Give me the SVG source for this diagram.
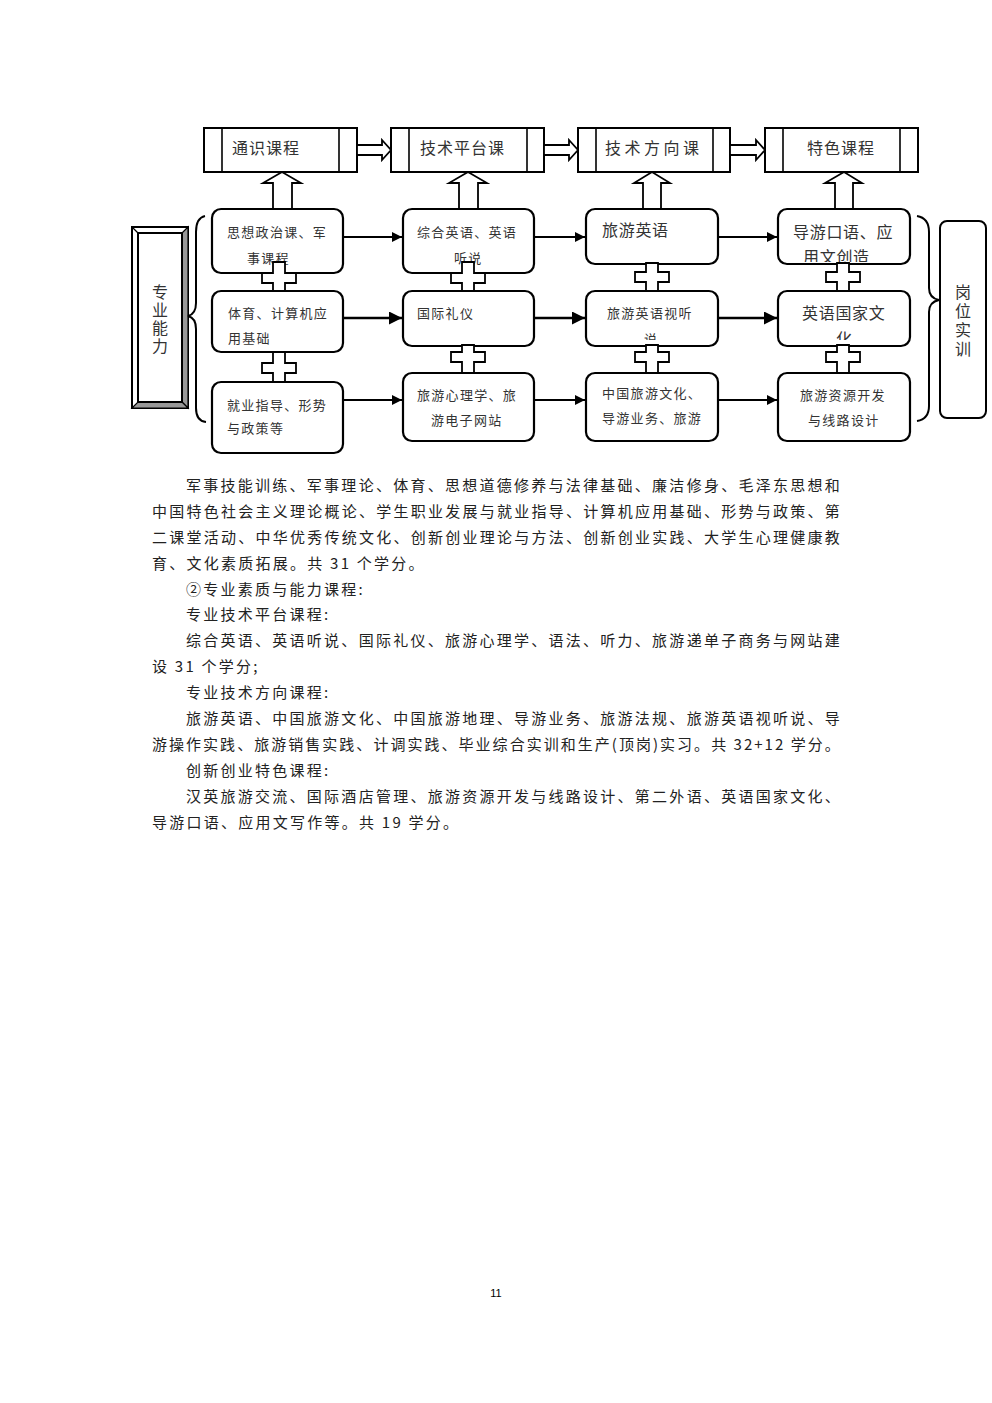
<svg xmlns="http://www.w3.org/2000/svg" width="992" height="1403" viewBox="0 0 992 1403">
<style>
.bg{fill:#fff}
.hdr{fill:#fff;stroke:#000;stroke-width:2}
.hin{stroke:#000;stroke-width:1.6}
.box{fill:#fff;stroke:#000;stroke-width:2.2}
.blk{fill:#fff;stroke:#000;stroke-width:1.8}
.lnk{stroke:#000;stroke-width:2;fill:none}
.brace{fill:none;stroke:#000;stroke-width:2}
.t{font-family:"Noto Sans CJK SC","Liberation Sans",sans-serif;fill:#333}
.s13{font-size:13px;letter-spacing:1.3px}
.s16{font-size:16px;letter-spacing:0.7px}
.h{font-size:16px;letter-spacing:1px}
.vt{writing-mode:vertical-rl}
.body{font-family:"Noto Sans CJK SC","Liberation Sans",sans-serif;font-size:15px;fill:#222;letter-spacing:2.25px}
</style>
<defs>
<marker id="ah" viewBox="0 0 10 10" refX="10" refY="5" markerWidth="5" markerHeight="5" orient="auto" markerUnits="strokeWidth"><path d="M0,0 L10,5 L0,10 z" fill="#000"/></marker>
<clipPath id="cA1"><rect x="212" y="209" width="131" height="62"/></clipPath>
<clipPath id="cB1"><rect x="403" y="209" width="131" height="62"/></clipPath>
<clipPath id="cD1"><rect x="778" y="209" width="132" height="53"/></clipPath>
<clipPath id="cC2"><rect x="586" y="291" width="132" height="49"/></clipPath>
<clipPath id="cD2"><rect x="778" y="291" width="132" height="49"/></clipPath>
</defs>
<rect class="bg" x="0" y="0" width="992" height="1403"/>

<!-- header boxes -->
<g id="h1"><rect class="hdr" x="204" y="128" width="153" height="44"/><line class="hin" x1="222" y1="128" x2="222" y2="172"/><line class="hin" x1="339" y1="128" x2="339" y2="172"/><text class="t h" x="232" y="154">通识课程</text></g>
<g id="h2"><rect class="hdr" x="391" y="128" width="153" height="44"/><line class="hin" x1="409" y1="128" x2="409" y2="172"/><line class="hin" x1="527" y1="128" x2="527" y2="172"/><text class="t h" x="420" y="154">技术平台课</text></g>
<g id="h3"><rect class="hdr" x="578" y="128" width="152" height="44"/><line class="hin" x1="596" y1="128" x2="596" y2="172"/><line class="hin" x1="713" y1="128" x2="713" y2="172"/><text class="t h" x="605" y="154" style="letter-spacing:3.5px">技术方向课</text></g>
<g id="h4"><rect class="hdr" x="765" y="128" width="153" height="44"/><line class="hin" x1="783" y1="128" x2="783" y2="172"/><line class="hin" x1="900" y1="128" x2="900" y2="172"/><text class="t h" x="807" y="154">特色课程</text></g>

<!-- left bevel box -->
<g id="zynl">
<rect x="132" y="227" width="56" height="181" fill="#fff" stroke="#000" stroke-width="2"/>
<polygon points="182,233 188,227 188,408 182,402" fill="#999" stroke="#000" stroke-width="1.2"/>
<polygon points="138,402 182,402 188,408 132,408" fill="#999" stroke="#000" stroke-width="1.2"/>
<rect x="138" y="233" width="44" height="169" fill="#fff" stroke="#000" stroke-width="2"/>
<line x1="132" y1="227" x2="138" y2="233" stroke="#000" stroke-width="1.2"/>
<text class="t vt" x="160" y="284" style="font-size:16px;letter-spacing:2px">专业能力</text>
</g>

<!-- right box -->
<g id="gwsx">
<rect x="940" y="221" width="46" height="197" rx="7" fill="#fff" stroke="#000" stroke-width="2"/>
<text class="t vt" x="963" y="284" style="font-size:16px;letter-spacing:3px">岗位实训</text>
</g>

<!-- braces -->
<g id="braces">
<path class="brace" d="M205,216 Q196,218 196,232 L196,303 Q196,314 188,316 Q196,318 196,329 L196,408 Q196,421 206,422"/>
<path class="brace" d="M917,216 Q929,218 929,232 L929,288 Q929,298 939,300 Q929,302 929,312 L929,406 Q929,419 917,421"/>
</g>

<!-- row 1 -->
<g id="a1"><rect class="box" x="212" y="209" width="131" height="64" rx="9"/><g clip-path="url(#cA1)"><text class="t s13" x="227" y="237">思想政治课、军</text><text class="t s13" x="247" y="263">事课程</text></g></g>
<g id="b1"><rect class="box" x="403" y="209" width="131" height="64" rx="9"/><g clip-path="url(#cB1)"><text class="t s13" x="417" y="237">综合英语、英语</text><text class="t s13" x="454" y="263">听说</text></g></g>
<g id="c1"><rect class="box" x="586" y="209" width="132" height="55" rx="9"/><text class="t s16" x="602" y="236">旅游英语</text></g>
<g id="d1"><rect class="box" x="778" y="209" width="132" height="55" rx="9"/><g clip-path="url(#cD1)"><text class="t s16" x="793" y="238">导游口语、应</text><text class="t s16" x="803" y="263">用文创造</text></g></g>

<!-- row 2 -->
<g id="a2"><rect class="box" x="212" y="291" width="131" height="61" rx="9"/><text class="t s13" x="228" y="318">体育、计算机应</text><text class="t s13" x="228" y="343">用基础</text></g>
<g id="b2"><rect class="box" x="403" y="291" width="131" height="55" rx="9"/><text class="t s13" x="417" y="318">国际礼仪</text></g>
<g id="c2"><rect class="box" x="586" y="291" width="132" height="55" rx="9"/><g clip-path="url(#cC2)"><text class="t s13" x="607" y="318">旅游英语视听</text><text class="t s13" x="644" y="344">说</text></g></g>
<g id="d2"><rect class="box" x="778" y="291" width="132" height="55" rx="9"/><g clip-path="url(#cD2)"><text class="t s16" x="802" y="319">英语国家文</text><text class="t s16" x="836" y="345">化</text></g></g>

<!-- row 3 -->
<g id="a3"><rect class="box" x="212" y="382" width="131" height="71" rx="9"/><text class="t s13" x="227" y="410">就业指导、形势</text><text class="t s13" x="227" y="433">与政策等</text></g>
<g id="b3"><rect class="box" x="403" y="373" width="131" height="68" rx="9"/><text class="t s13" x="417" y="400">旅游心理学、旅</text><text class="t s13" x="431" y="425">游电子网站</text></g>
<g id="c3"><rect class="box" x="586" y="373" width="132" height="68" rx="9"/><text class="t s13" x="602" y="398">中国旅游文化、</text><text class="t s13" x="602" y="423">导游业务、旅游</text></g>
<g id="d3"><rect class="box" x="778" y="373" width="132" height="68" rx="9"/><text class="t s13" x="800" y="400">旅游资源开发</text><text class="t s13" x="808" y="425">与线路设计</text></g>

<!-- connectors -->
<g id="connectors">
<path class="blk" d="M357,145 L382,145 L382,140 L391,150 L382,160 L382,155 L357,155 Z"/>
<path class="blk" d="M544,145 L569,145 L569,140 L578,150 L569,160 L569,155 L544,155 Z"/>
<path class="blk" d="M730,145 L756,145 L756,140 L765,150 L756,160 L756,155 L730,155 Z"/>
<path class="blk" d="M273,209 L273,183 L263,183 L282,172 L301,183 L292,183 L292,209 Z"/>
<path class="blk" d="M459,209 L459,183 L449,183 L468,172 L487,183 L478,183 L478,209 Z"/>
<path class="blk" d="M643,209 L643,183 L634,183 L652,172 L670,183 L661,183 L661,209 Z"/>
<path class="blk" d="M835,209 L835,183 L825,183 L844,172 L862,183 L853,183 L853,209 Z"/>
<path class="blk" d="M273,262 h12 v11 h11 v10 h-11 v8 h-12 v-8 h-11 v-10 h11 z"/>
<path class="blk" d="M462,262 h12 v11 h11 v10 h-11 v8 h-12 v-8 h-11 v-10 h11 z"/>
<path class="blk" d="M646,263 h12 v9 h11 v10 h-11 v9 h-12 v-9 h-11 v-10 h11 z"/>
<path class="blk" d="M837,263 h12 v9 h11 v10 h-11 v9 h-12 v-9 h-11 v-10 h11 z"/>
<path class="blk" d="M273,352 h12 v11 h11 v10 h-11 v9 h-12 v-9 h-11 v-10 h11 z"/>
<path class="blk" d="M462,345 h12 v7 h11 v10 h-11 v11 h-12 v-11 h-11 v-10 h11 z"/>
<path class="blk" d="M646,345 h12 v7 h11 v10 h-11 v11 h-12 v-11 h-11 v-10 h11 z"/>
<path class="blk" d="M837,345 h12 v7 h11 v10 h-11 v11 h-12 v-11 h-11 v-10 h11 z"/>
<line class="lnk" x1="343" y1="237" x2="402" y2="237" marker-end="url(#ah)"/>
<line class="lnk" x1="534" y1="237" x2="585" y2="237" marker-end="url(#ah)"/>
<line class="lnk" x1="718" y1="237" x2="777" y2="237" marker-end="url(#ah)"/>
<line class="lnk" x1="343" y1="318" x2="402" y2="318" marker-end="url(#ah)" style="stroke-width:2.6"/>
<line class="lnk" x1="534" y1="318" x2="585" y2="318" marker-end="url(#ah)" style="stroke-width:2.6"/>
<line class="lnk" x1="718" y1="318" x2="777" y2="318" marker-end="url(#ah)" style="stroke-width:2.6"/>
<line class="lnk" x1="343" y1="400" x2="402" y2="400" marker-end="url(#ah)"/>
<line class="lnk" x1="534" y1="400" x2="585" y2="400" marker-end="url(#ah)"/>
<line class="lnk" x1="718" y1="400" x2="777" y2="400" marker-end="url(#ah)"/>
</g>

<!-- body text -->
<g id="body">
<text class="body" x="186" y="491" textLength="656" lengthAdjust="spacing">军事技能训练、军事理论、体育、思想道德修养与法律基础、廉洁修身、毛泽东思想和</text>
<text class="body" x="152" y="517" textLength="690" lengthAdjust="spacing">中国特色社会主义理论概论、学生职业发展与就业指导、计算机应用基础、形势与政策、第</text>
<text class="body" x="152" y="543" textLength="690" lengthAdjust="spacing">二课堂活动、中华优秀传统文化、创新创业理论与方法、创新创业实践、大学生心理健康教</text>
<text class="body" x="152" y="569">育、文化素质拓展。共 31 个学分。</text>
<text class="body" x="186" y="595">②专业素质与能力课程:</text>
<text class="body" x="186" y="620">专业技术平台课程:</text>
<text class="body" x="186" y="646" textLength="656" lengthAdjust="spacing">综合英语、英语听说、国际礼仪、旅游心理学、语法、听力、旅游递单子商务与网站建</text>
<text class="body" x="152" y="672">设 31 个学分;</text>
<text class="body" x="186" y="698">专业技术方向课程:</text>
<text class="body" x="186" y="724" textLength="656" lengthAdjust="spacing">旅游英语、中国旅游文化、中国旅游地理、导游业务、旅游法规、旅游英语视听说、导</text>
<text class="body" x="152" y="750" textLength="690" lengthAdjust="spacing">游操作实践、旅游销售实践、计调实践、毕业综合实训和生产(顶岗)实习。共 32+12 学分。</text>
<text class="body" x="186" y="776">创新创业特色课程:</text>
<text class="body" x="186" y="802" textLength="656" lengthAdjust="spacing">汉英旅游交流、国际酒店管理、旅游资源开发与线路设计、第二外语、英语国家文化、</text>
<text class="body" x="152" y="828">导游口语、应用文写作等。共 19 学分。</text>
</g>
<text id="pageno" x="496" y="1297" text-anchor="middle" font-family="Liberation Sans, sans-serif" font-size="11" fill="#000">11</text>
</svg>
